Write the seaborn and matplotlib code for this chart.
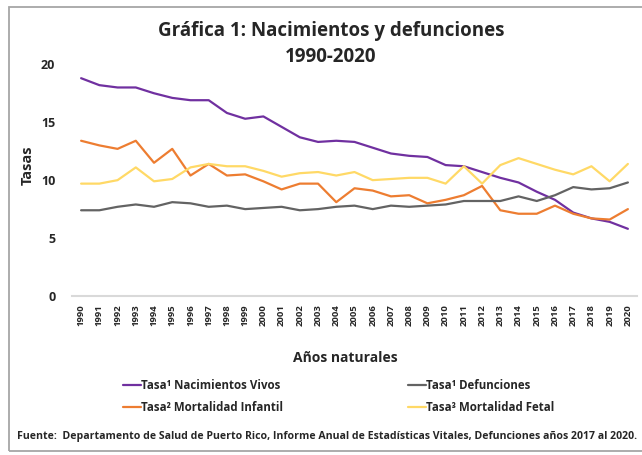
import matplotlib
matplotlib.use("Agg")
import matplotlib.pyplot as plt
from matplotlib.patches import Rectangle
import seaborn as sns
import pandas as pd

years = list(range(1990, 2021))

nacimientos = [18.8, 18.2, 18.0, 18.0, 17.5, 17.1, 16.9, 16.9, 15.8, 15.3, 15.5,
               14.6, 13.7, 13.3, 13.4, 13.3, 12.8, 12.3, 12.1, 12.0, 11.3,
               11.2, 10.7, 10.2, 9.8, 9.0, 8.3, 7.2, 6.7, 6.4, 5.8]
defunciones = [7.4, 7.4, 7.7, 7.9, 7.7, 8.1, 8.0, 7.7, 7.8, 7.5, 7.6,
               7.7, 7.4, 7.5, 7.7, 7.8, 7.5, 7.8, 7.7, 7.8, 7.9,
               8.2, 8.2, 8.2, 8.6, 8.2, 8.7, 9.4, 9.2, 9.3, 9.8]
mort_infantil = [13.4, 13.0, 12.7, 13.4, 11.5, 12.7, 10.4, 11.4, 10.4, 10.5, 9.9,
                 9.2, 9.7, 9.7, 8.1, 9.3, 9.1, 8.6, 8.7, 8.0, 8.3,
                 8.7, 9.5, 7.4, 7.1, 7.1, 7.8, 7.1, 6.7, 6.6, 7.5]
mort_fetal = [9.7, 9.7, 10.0, 11.1, 9.9, 10.1, 11.1, 11.4, 11.2, 11.2, 10.8,
              10.3, 10.6, 10.7, 10.4, 10.7, 10.0, 10.1, 10.2, 10.2, 9.7,
              11.2, 9.7, 11.3, 11.9, 11.4, 10.9, 10.5, 11.2, 9.9, 11.4]

series_names = ["Tasa¹ Nacimientos Vivos", "Tasa² Mortalidad Infantil",
                "Tasa¹ Defunciones", "Tasa³ Mortalidad Fetal"]
series_colors = ["#7030A0", "#ED7D31", "#636363", "#FFD966"]
y_ticks = [0, 5, 10, 15, 20]

title = "Gráfica 1: Nacimientos y defunciones\n1990-2020"
x_label = "Años naturales"
y_label = "Tasas"
source = ("Fuente:  Departamento de Salud de Puerto Rico, Informe Anual de "
          "Estadísticas Vitales, Defunciones años 2017 al 2020.")

df = pd.concat([
    pd.DataFrame({"Año": years, "Tasa": vals, "Serie": name})
    for name, vals in zip(series_names,
                          [nacimientos, mort_infantil, defunciones, mort_fetal])
])

sns.set_theme(style="white")
plt.rcParams["font.family"] = ["Open Sans", "DejaVu Sans"]
plt.rcParams["font.weight"] = "bold"
text_color = "#262626"

fig = plt.figure(figsize=(6.42, 4.55), dpi=100)
ax = fig.add_axes([72 / 642, 1 - 296 / 455, (637 - 72) / 642, (296 - 64.3) / 455])

palette = dict(zip(series_names, series_colors))
sns.lineplot(data=df, x="Año", y="Tasa", hue="Serie", hue_order=series_names,
             palette=palette, linewidth=1.6, ax=ax, legend=True)

ax.set_xlim(1989.5, 2020.5)
ax.set_ylim(0, 20)
ax.set_yticks(y_ticks)
ax.set_xticks(years)
ax.set_xticklabels([str(y) for y in years], rotation=90, fontsize=6.8,
                   fontweight="bold", color=text_color, va="top")
ax.set_yticklabels([str(t) for t in y_ticks], fontsize=9, fontweight="bold",
                   color=text_color)
ax.tick_params(axis="x", length=0, pad=6)
ax.tick_params(axis="y", length=0, pad=12)
for s in ["top", "right", "left"]:
    ax.spines[s].set_visible(False)
ax.spines["bottom"].set_color("#d9d9d9")
ax.spines["bottom"].set_linewidth(1.5)
ax.grid(False)

ax.set_xlabel("")
ax.set_ylabel("")
fig.text(28 / 642, 1 - 165 / 455, y_label, rotation=90, ha="center", va="center",
         fontsize=10.5, fontweight="bold", color=text_color)
fig.text(345 / 642, 1 - 358 / 455, x_label, ha="center", va="center",
         fontsize=10, fontweight="bold", color=text_color)
fig.text(331 / 642, 1 - 44 / 455, title, ha="center", va="center",
         fontsize=13.5, fontweight="bold", color=text_color, linespacing=1.45)
fig.text(17 / 642, 1 - 437 / 455, source, ha="left", va="center",
         fontsize=7.6, fontweight="bold", color=text_color)

handles, labels = ax.get_legend_handles_labels()
ax.get_legend().remove()
lmap = dict(zip(labels, handles))
order = ["Tasa¹ Nacimientos Vivos", "Tasa² Mortalidad Infantil",
         "Tasa¹ Defunciones", "Tasa³ Mortalidad Fetal"]
leg = fig.legend([lmap[l] for l in order], order, ncol=2, loc="upper left",
                 bbox_to_anchor=(123 / 642, 1 - 379 / 455), frameon=False,
                 handlelength=1.6, handletextpad=0.0, columnspacing=10.8,
                 labelspacing=0.75, borderpad=0, borderaxespad=0,
                 prop={"size": 8.3, "weight": "bold"}, labelcolor=text_color)

fig.patches.append(Rectangle((9 / 642, 1 - 451 / 455), 1.0, (451 - 7) / 455,
                             transform=fig.transFigure, fill=False,
                             edgecolor="#a6a6a6", linewidth=1.3))

fig.savefig("out.png", dpi=100)
